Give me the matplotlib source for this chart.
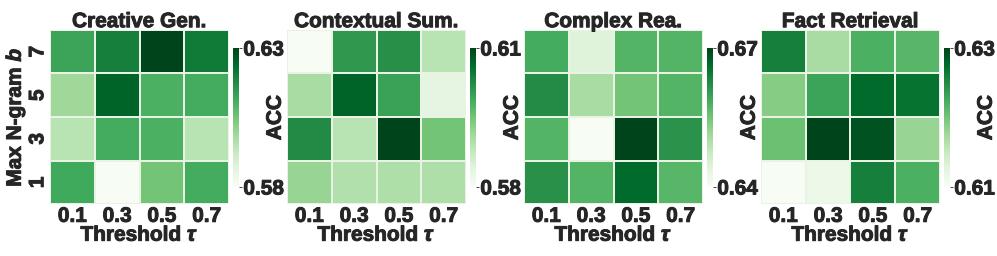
import matplotlib
matplotlib.use('Agg')
import matplotlib.pyplot as plt
import matplotlib.patheffects as pe
import seaborn as sns
import numpy as np

sns.set_style('white')
plt.rcParams['font.family'] = ['Liberation Sans', 'DejaVu Sans']
plt.rcParams['font.weight'] = 'bold'
plt.rcParams['text.color'] = '#262626'
plt.rcParams['axes.labelcolor'] = '#262626'
plt.rcParams['xtick.color'] = '#262626'
plt.rcParams['ytick.color'] = '#262626'
plt.rcParams['mathtext.fontset'] = 'custom'
plt.rcParams['mathtext.it'] = 'Liberation Sans:italic'

thresholds = ['0.1', '0.3', '0.5', '0.7']
ngrams = ['7', '5', '3', '1']
titles = ['Creative Gen.', 'Contextual Sum.', 'Complex Rea.', 'Fact Retrieval']

# accuracy, rows = max n-gram 7,5,3,1 ; cols = threshold 0.1..0.7
creative = [[0.6125, 0.6200, 0.6300, 0.6210],
            [0.5990, 0.6250, 0.6100, 0.6110],
            [0.5950, 0.6110, 0.6100, 0.5950],
            [0.6115, 0.5800, 0.6050, 0.6110]]
contextual = [[0.5800, 0.6010, 0.6020, 0.5890],
              [0.5905, 0.6070, 0.5998, 0.5836],
              [0.6025, 0.5890, 0.6100, 0.5950],
              [0.5920, 0.5896, 0.5899, 0.5899]]
complex_rea = [[0.6586, 0.6445, 0.6574, 0.6574],
               [0.6625, 0.6505, 0.6550, 0.6574],
               [0.6574, 0.6400, 0.6700, 0.6616],
               [0.6619, 0.6574, 0.6664, 0.6571]]
fact = [[0.6260, 0.6170, 0.6220, 0.6214],
        [0.6190, 0.6230, 0.6276, 0.6270],
        [0.6204, 0.6300, 0.6290, 0.6180],
        [0.6100, 0.6116, 0.6260, 0.6220]]
cbar_ticks = [(0.58, 0.63), (0.58, 0.61), (0.64, 0.67), (0.61, 0.63)]

datasets = [creative, contextual, complex_rea, fact]

heavy = [pe.withStroke(linewidth=0.7, foreground='#262626')]
fs = 15

fig = plt.figure(figsize=(9.97, 2.56), dpi=100)
lefts = [0.0502, 0.2879, 0.5256, 0.7633]
for i, (data, title) in enumerate(zip(datasets, titles)):
    ax = fig.add_axes([lefts[i], 0.203, 0.1795, 0.680])
    cax = fig.add_axes([lefts[i] + 0.1835, 0.2695, 0.0062, 0.543])
    arr = np.array(data)
    lo, hi = arr.min(), arr.max()
    sns.heatmap(arr, ax=ax, cbar_ax=cax, cmap='Greens', vmin=lo, vmax=hi,
                linewidths=0.3, linecolor='#e8f3e4',
                xticklabels=thresholds, yticklabels=ngrams)
    ax.set_title(title, fontsize=fs, fontweight='bold', pad=2, path_effects=heavy)
    ax.set_xlabel(r'Threshold $\tau$', fontsize=fs, fontweight='bold', labelpad=0,
                  path_effects=heavy)
    ax.tick_params(axis='x', labelsize=fs, length=0, pad=2)
    ax.tick_params(axis='y', labelsize=fs, length=0, pad=2, labelrotation=90)
    for lab in ax.get_yticklabels():
        lab.set_va('center')
    if i == 0:
        ax.set_ylabel(r'Max N-gram $b$', fontsize=fs, fontweight='bold', labelpad=1,
                      path_effects=heavy)
    else:
        ax.set_yticklabels([])
    cax.set_yticks([lo, hi])
    cax.set_yticklabels(['%.2f' % cbar_ticks[i][0], '%.2f' % cbar_ticks[i][1]])
    cax.tick_params(labelsize=fs, length=2, width=0.6, pad=1)
    cax.set_ylabel('ACC', fontsize=fs, fontweight='bold', path_effects=heavy)
    cax.yaxis.set_label_coords(5.3, 0.5)
    for s in cax.spines.values():
        s.set_visible(False)
    for lab in ax.get_xticklabels() + ax.get_yticklabels() + cax.get_yticklabels():
        lab.set_path_effects(heavy)

fig.savefig('out.png', dpi=100)
